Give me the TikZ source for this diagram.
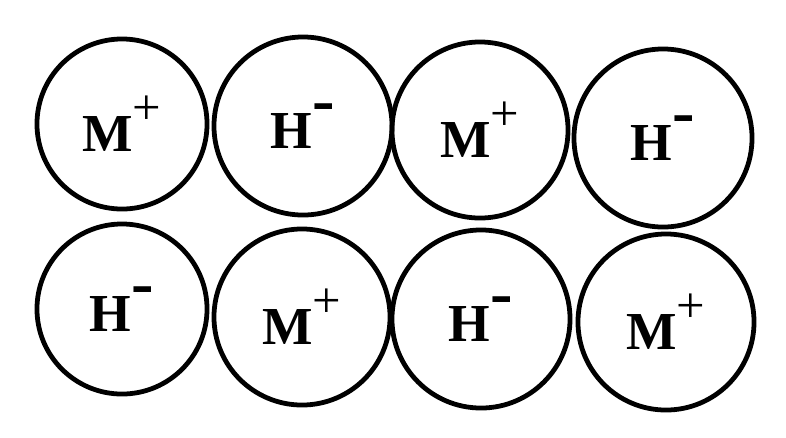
\documentclass[tikz,border=0pt]{standalone}
\usepackage{fontspec}
\setmainfont{Liberation Serif}
\newcommand{\ionp}[1]{#1\raisebox{0.5em}{\fontseries{m}\selectfont\fontsize{36}{36}\selectfont +}}
\newcommand{\ionm}[1]{#1\raisebox{0.5em}{\fontsize{48}{48}\selectfont -}}
\begin{document}
\begin{tikzpicture}[x=0.025cm,y=-0.025cm,line cap=round,line join=round,
	ion/.style={circle,draw,line width=3.4pt,inner sep=0pt,minimum size=4.4cm,
		font=\fontsize{38}{38}\bfseries\selectfont}]
				\useasboundingbox (0,0) rectangle (786,437);
				% top row
				\foreach \n/\x/\y/\d/\t in {a1/122/124/4.25/\ionp{M},a2/303/126/4.45/\ionm{H},a3/480/130/4.4/\ionp{M},a4/663/138/4.45/\ionm{H}}
				\node[ion,minimum size=\d cm] (\n) at (\x,\y) {\t};
				% bottom row
				\foreach \n/\x/\y/\d/\t in {b1/122/309/4.25/\ionm{H},b2/302/317/4.4/\ionp{M},b3/481/319/4.45/\ionm{H},b4/666/322/4.4/\ionp{M}}
				\node[ion,minimum size=\d cm] (\n) at (\x,\y) {\t};
\end{tikzpicture}
\end{document}
